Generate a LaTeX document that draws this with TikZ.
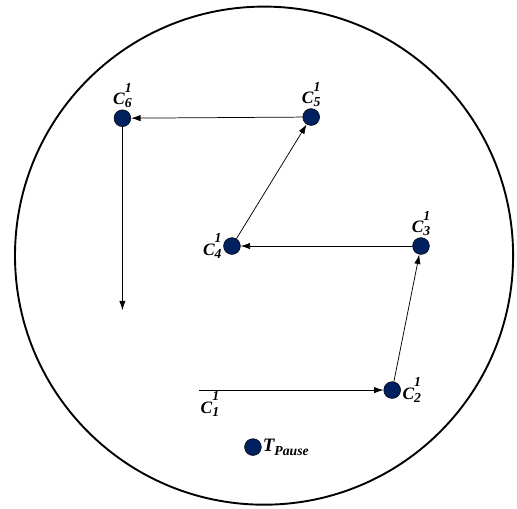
\documentclass[tikz,border=0pt]{standalone}
\usepackage{fontspec}
\setmainfont{Liberation Serif}
\usetikzlibrary{arrows.meta,calc}
\definecolor{dotblue}{RGB}{0,32,96}
\newcommand{\scr}[1]{{\fontsize{13}{13}\selectfont #1}}
\newcommand{\clab}[1]{C\rlap{\raisebox{0.7em}{\scr{1}}}\raisebox{-0.18em}{\scr{#1}}}

\begin{document}
\begin{tikzpicture}[>={Latex[length=9pt,width=6pt]},
  dot/.style={circle,draw=black,fill=dotblue,line width=0.5pt,inner sep=0pt,minimum size=0.56cm},
  lbl/.style={font=\fontsize{16.5}{18}\selectfont\bfseries\itshape,inner sep=1.5pt}]
\useasboundingbox (-8.8,-8.42) rectangle (8.43,8.52);

% Step 1
\draw[line width=1.8pt] (0,0) circle (8.3);

% Step 2
\node[dot,label={[lbl]above:\clab{6}}] (C6) at (-4.72,4.58) {};
\node[dot,label={[lbl]above:\clab{5}}] (C5) at (1.57,4.62) {};
\node[dot,label={[lbl]left:\clab{4}}] (C4) at (-1.07,0.32) {};
\node[dot,label={[lbl]above:\clab{3}}] (C3) at (5.23,0.32) {};
\node[dot,label={[lbl]right:\clab{2}}] (C2) at (4.27,-4.48) {};
\node[dot,label={[lbl,font=\fontsize{18}{20}\selectfont\bfseries\itshape,inner sep=1pt]right:T\raisebox{-0.2em}{\scr{Pause}}}] (T) at (-0.37,-6.38) {};
\coordinate[label={[lbl]below right:\clab{1}}] (C1) at (-2.17,-4.48);
\coordinate (C7) at (-4.72,-1.82);

% Step 3
\draw[->,line width=0.7pt] (C1) -- (C2);
\draw[->,line width=0.7pt] (C2) -- (C3);
\draw[->,line width=0.7pt] (C3) -- (C4);
\draw[->,line width=0.7pt] (C4) -- (C5);
\draw[->,line width=0.7pt] (C5) -- (C6);
\draw[->,line width=0.7pt] (C6) -- (C7);

\end{tikzpicture}
\end{document}
